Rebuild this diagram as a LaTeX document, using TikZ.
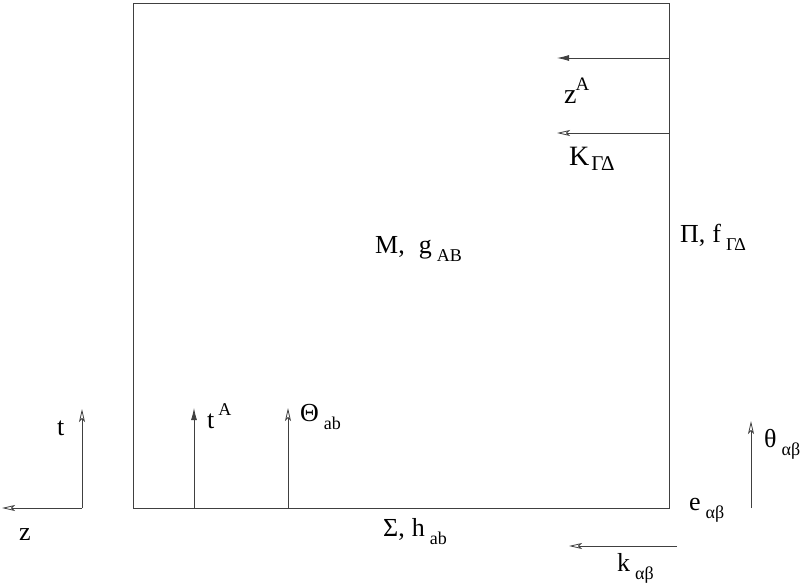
\documentclass[tikz,border=0pt]{standalone}
\usepackage{fontspec}
\setmainfont{Liberation Serif}
\usetikzlibrary{arrows.meta}
\newcommand{\lowidx}[2][18]{\hspace{5pt}\raisebox{-8pt}{\fontsize{#1}{#1}\selectfont #2}}
\newcommand{\highidx}[2][18]{\hspace{4pt}\raisebox{13pt}{\fontsize{#1}{#1}\selectfont #2}}

\begin{document}
\begin{tikzpicture}[
		x=1pt,y=-1pt,
		font=\fontsize{26}{30}\selectfont,
		lbl/.style={anchor=base west,inner sep=0pt},
		biglbl/.style={lbl,font=\fontsize{28}{32}\selectfont},
		edge/.style={line width=0.8pt,draw=black!75},
		vec/.style={edge,-{Latex[length=12pt,width=6pt]}},
		covec/.style={edge,-{Stealth[open,length=13pt,width=6pt,inset=3pt]}}
	]
	\useasboundingbox (0,0) rectangle (809,584);
	
	% the manifold M
	\draw[edge] (133,3) rectangle (669,508);
	
	% end points of the arrows
	\coordinate (zA0) at (669,58);
	\coordinate (zA1) at (557,58);
	\coordinate (K0) at (669,133);
	\coordinate (K1) at (557,133);
	\coordinate (tA0) at (194,508);
	\coordinate (tA1) at (194,408);
	\coordinate (Th0) at (288,508);
	\coordinate (Th1) at (288,408);
	\coordinate (orig) at (82,508);
	\coordinate (taxis) at (82,409);
	\coordinate (zaxis) at (2,508);
	\coordinate (th0) at (751,508);
	\coordinate (th1) at (751,421);
	\coordinate (k0) at (677,546);
	\coordinate (k1) at (569,546);
	
	\draw[vec] (zA0) -- (zA1);
	\draw[covec] (K0) -- (K1);
	\draw[vec] (tA0) -- (tA1);
	\draw[covec] (Th0) -- (Th1);
	\draw[covec] (orig) -- (taxis);
	\draw[covec] (orig) -- (zaxis);
	\draw[covec] (th0) -- (th1);
	\draw[covec] (k0) -- (k1);
	
	% labels
	\node[biglbl] (zAlbl) at (564,103) {z\hspace{-1pt}\raisebox{13pt}{\fontsize{19}{19}\selectfont A}};
	\node[biglbl] (Klbl) at (569,165) {K\hspace{2pt}\raisebox{-5pt}{\fontsize{21}{21}\selectfont ΓΔ}};
	\node[lbl] (Mlbl) at (375,253) {M,\hspace{14pt}g\lowidx{AB}};
	\node[lbl] (Pilbl) at (680,242) {Π,\hspace{7pt}f\lowidx{ΓΔ}};
	\node[lbl] (tlbl) at (57,435) {t};
	\node[lbl] (zlbl) at (19,540) {z};
	\node[lbl] (tAlbl) at (207,428) {t\highidx{A}};
	\node[lbl] (Thlbl) at (300,421) {Θ\lowidx{ab}};
	\node[lbl] (thlbl) at (764,447) {θ\lowidx{αβ}};
	\node[lbl] (elbl) at (689,510) {e\lowidx{αβ}};
	\node[lbl] (klbl) at (617,571) {k\lowidx{αβ}};
	\node[lbl] (Slbl) at (383,536) {Σ,\hspace{7pt}h\lowidx{ab}};
	
\end{tikzpicture}
\end{document}
